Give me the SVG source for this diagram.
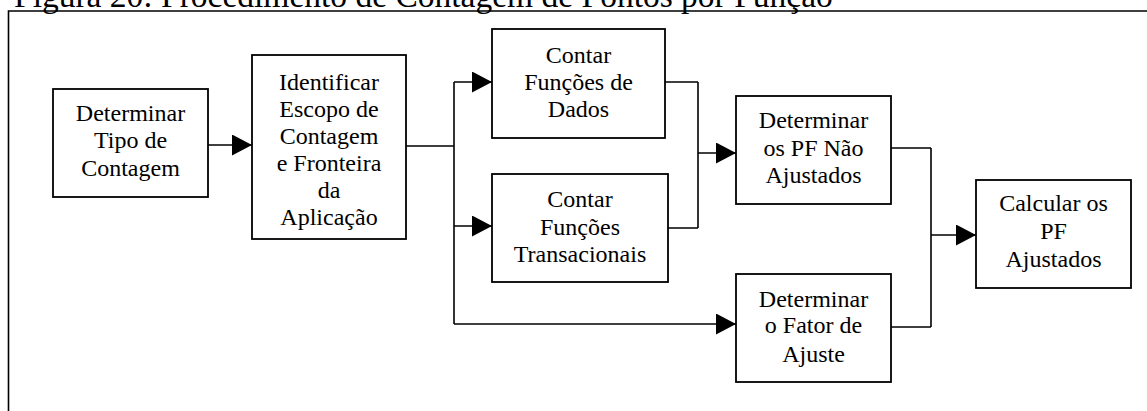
<svg xmlns="http://www.w3.org/2000/svg" width="1147" height="411" viewBox="0 0 1147 411">
<style>
.bg{fill:#ffffff}
.frame{fill:none;stroke:#000;stroke-width:1.6}
.box{fill:#ffffff;stroke:#000;stroke-width:1.8}
.con{fill:none;stroke:#000;stroke-width:1.6}
.arr{fill:none;stroke:#000;stroke-width:1.6;marker-end:url(#ah)}
</style>
<defs>
<marker id="ah" markerUnits="userSpaceOnUse" markerWidth="20" markerHeight="21" refX="20" refY="10.5" orient="auto">
<path d="M0,0 L20,10.5 L0,21 Z" fill="#000"/>
</marker>
</defs>
<rect class="bg" x="0" y="0" width="1147" height="411"/>
<text x="14" y="7" font-family="Liberation Serif, serif" font-size="33.5" fill="#000">Figura 20: Procedimento de Contagem de Pontos por Função</text>
<path class="frame" d="M8.5,411 V11 H1147"/>
<g id="connectors">
<path class="arr" d="M208,145 H252"/>
<path class="con" d="M406,146 H454 M454,82 V324"/>
<path class="arr" d="M454,82 H492"/>
<path class="arr" d="M454,226 H492"/>
<path class="arr" d="M454,324 H736"/>
<path class="con" d="M665,82 H698 M668,228 H698 M698,82 V228"/>
<path class="arr" d="M698,153 H736"/>
<path class="con" d="M891,148 H931 M891,327 H931 M931,148 V327"/>
<path class="arr" d="M931,235 H976"/>
</g>
<g font-family="Liberation Serif, serif" font-size="24" fill="#000" text-anchor="middle">
<g id="n1">
<rect class="box" x="53" y="89" width="155" height="108"/>
<text x="130.5" y="121">Determinar</text>
<text x="130.5" y="148">Tipo de</text>
<text x="130.5" y="175.5">Contagem</text>
</g>
<g id="n2">
<rect class="box" x="252" y="55" width="154" height="184"/>
<text x="329" y="89.5">Identificar</text>
<text x="329" y="116.5">Escopo de</text>
<text x="329" y="143.5">Contagem</text>
<text x="329" y="170.5">e Fronteira</text>
<text x="329" y="197.5">da</text>
<text x="329" y="224.5">Aplicação</text>
</g>
<g id="n3">
<rect class="box" x="492" y="29" width="173" height="109"/>
<text x="578.5" y="62.7">Contar</text>
<text x="578.5" y="90">Funções de</text>
<text x="578.5" y="117.3">Dados</text>
</g>
<g id="n4">
<rect class="box" x="492" y="174" width="176" height="108"/>
<text x="580" y="207.3">Contar</text>
<text x="580" y="235">Funções</text>
<text x="580" y="262.3">Transacionais</text>
</g>
<g id="n5">
<rect class="box" x="736" y="96" width="155" height="108"/>
<text x="813.5" y="128.3">Determinar</text>
<text x="813.5" y="156">os PF Não</text>
<text x="813.5" y="182.7">Ajustados</text>
</g>
<g id="n6">
<rect class="box" x="736" y="274" width="155" height="108"/>
<text x="813.5" y="306.7">Determinar</text>
<text x="813.5" y="333.3">o Fator de</text>
<text x="813.5" y="361.7">Ajuste</text>
</g>
<g id="n7">
<rect class="box" x="976" y="180" width="155" height="108"/>
<text x="1053.5" y="211">Calcular os</text>
<text x="1053.5" y="238.7">PF</text>
<text x="1053.5" y="266.7">Ajustados</text>
</g>
</g>
</svg>
